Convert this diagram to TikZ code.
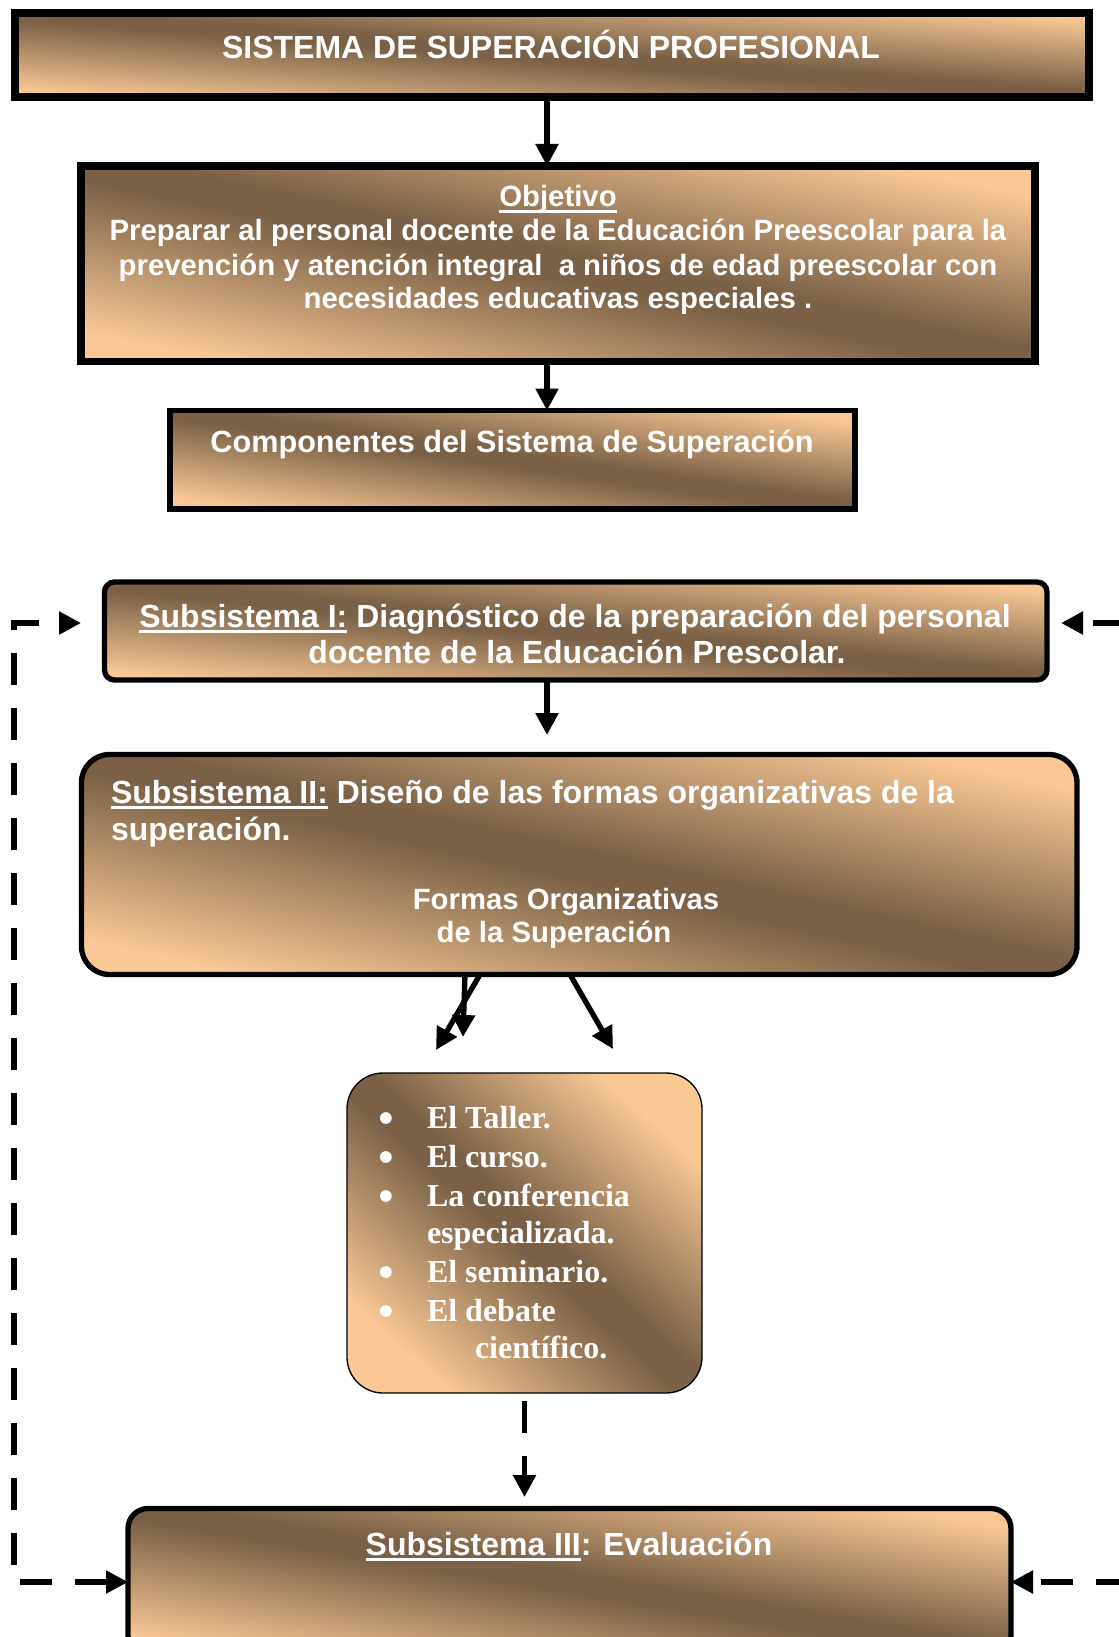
\documentclass[tikz,border=0pt]{standalone}
\usepackage{fontspec}
\setmainfont{Liberation Serif}
\setsansfont{Liberation Sans}
\usetikzlibrary{arrows.meta,calc}
\definecolor{peach}{RGB}{249,200,149}
\definecolor{bronze}{RGB}{121,96,70}
\pgfdeclareverticalshading{brass}{100bp}{color(0bp)=(peach); color(25bp)=(peach); color(48bp)=(bronze); color(52bp)=(bronze); color(75bp)=(peach); color(100bp)=(peach)}
\newsavebox{\undlbox}
\newcommand{\undl}[1]{\sbox{\undlbox}{#1}\rlap{\rule[-4.4pt]{\wd\undlbox}{2.2pt}}\usebox{\undlbox}}
\newcommand{\itm}{\makebox[35.25pt][l]{\raisebox{3.1pt}{\tikz\fill[white] (0,0) circle (4.4pt);}}}

\begin{document}
\begin{tikzpicture}[x=0.75pt,y=0.75pt]
	\tikzstyle{every node}+=[inner sep=0pt, outer sep=0pt]
	\tikzstyle{panel}=[draw=black, shade, shading=brass, anchor=north west, line width=4pt]
	\tikzstyle{lbl}=[text=white, anchor=base]
	\tikzstyle{big}=[font=\sffamily\bfseries\fontsize{24}{28}\selectfont]
	\tikzstyle{mid}=[font=\sffamily\bfseries\fontsize{23}{27}\selectfont]
	\tikzstyle{small}=[font=\sffamily\bfseries\fontsize{22}{26}\selectfont]
	\tikzstyle{serif}=[font=\rmfamily\bfseries\fontsize{24}{29}\selectfont]
	\tikzstyle{arr}=[line width=4pt, -{Triangle[length=16.5pt,width=16.5pt]}]
	\tikzstyle{dashline}=[line width=4pt, dash pattern=on 24pt off 17.25pt]
	\useasboundingbox (0,0) rectangle (1118,-1637);
	\node [panel, shading angle=-4.5, line width=5.5pt, minimum width=805.5pt, minimum height=63pt] (title) at (15,-13) {};
	\node [panel, shading angle=-11.6, line width=5.5pt, minimum width=715.5pt, minimum height=146.8pt] (obj) at (81,-166) {};
	\node [panel, shading angle=-8.2, minimum width=513.75pt, minimum height=73.9pt] (comp) at (170,-410.5) {};
	\node [panel, shading angle=-5.9, rounded corners=7.5pt, minimum width=706.9pt, minimum height=73.5pt] (sub1) at (104.5,-582) {};
	\node [panel, shading angle=-12.5, rounded corners=21pt, minimum width=746.6pt, minimum height=165pt] (sub2) at (81.5,-754.5) {};
	\node [panel, shading angle=-42, line width=1pt, rounded corners=27pt, minimum width=266.25pt, minimum height=240pt] (list) at (347,-1073) {};
	\node [panel, shading angle=-9.5, rounded corners=15pt, minimum width=662.25pt, minimum height=110.25pt] (sub3) at (128,-1508.5) {};
	\node [lbl, big] (titletext) at (551,-58.5) {SISTEMA DE SUPERACIÓN PROFESIONAL};
	\node [lbl, small] (objhead) at (558,-207) {\undl{Objetivo}};
	\node [lbl, small] (objline1) at (558,-241) {Preparar al personal docente de la Educación Preescolar para la};
	\node [lbl, small] (objline2) at (558,-275) {prevención y atención integral\ \ a niños de edad preescolar con};
	\node [lbl, small] (objline3) at (558,-308) {necesidades educativas especiales .};
	\node [lbl, mid] (comptext) at (512,-452) {Componentes del Sistema de Superación};
	\node [lbl, big] (sub1line1) at (575,-627) {\undl{Subsistema I:} Diagnóstico de la preparación del personal};
	\node [lbl, big] (sub1line2) at (577,-663) {docente de la Educación Prescolar.};
	\node [lbl, big, anchor=base west] (sub2line1) at (111,-803) {\undl{Subsistema II:} Diseño de las formas organizativas de la};
	\node [lbl, big, anchor=base west] (sub2line2) at (111,-840) {superación.};
	\node [lbl, small] (forms1) at (566,-909) {Formas Organizativas};
	\node [lbl, small] (forms2) at (554,-942) {de la Superación};
	\node [lbl, serif, anchor=base west] (it1) at (380,-1128) {\itm El Taller.};
	\node [lbl, serif, anchor=base west] (it2) at (380,-1167) {\itm El curso.};
	\node [lbl, serif, anchor=base west] (it3) at (380,-1206) {\itm La conferencia};
	\node [lbl, serif, anchor=base west] (it3b) at (427,-1243) {especializada.};
	\node [lbl, serif, anchor=base west] (it4) at (380,-1282) {\itm El seminario.};
	\node [lbl, serif, anchor=base west] (it5) at (380,-1321) {\itm El debate};
	\node [lbl, serif, anchor=base west] (it5b) at (475,-1358) {científico.};
	\node [lbl, big] (sub3text) at (569,-1555) {\undl{Subsistema III}: Evaluación};
	\coordinate (spine) at (547,0);
	\coordinate (tipa) at (436,-1050);
	\coordinate (tipb) at (463,-1037);
	\coordinate (tipc) at (613,-1049);
	\coordinate (lcorner) at (14,-623);
	\coordinate (rtop) at (1125,-623);
	\coordinate (rbot) at (1128,-1582);
	\draw [arr] (title.south -| spine) -- (obj.north -| spine);
	\draw [arr] (obj.south -| spine) -- (comp.north -| spine);
	\draw [arr, shorten >=14.6pt] (sub1.south -| spine) -- (sub2.north -| spine);
	\draw [arr] ($(sub2.south)+(-99.25,0)$) -- (tipa);
	\draw [arr] ($(sub2.south)+(-114.25,0)$) -- (tipb);
	\draw [arr] ($(sub2.south)+(-9.25,0)$) -- (tipc);
	\draw [arr, dashline, shorten <=6pt, shorten >=8.6pt] (list.south) -- (sub3.north -| list.south);
	\draw [arr, dashline, {Triangle[length=16.5pt,width=16.5pt]}-{Triangle[length=16.5pt,width=16.5pt]}, shorten >=17.6pt] (sub3.west) -| (lcorner) -- (sub1.west |- lcorner);
	\draw [arr, dashline, shorten >=10.5pt] (rtop) -- (sub1.east |- rtop);
	\draw [arr, dashline] (rbot) -- (sub3.east);
\end{tikzpicture}
\end{document}
